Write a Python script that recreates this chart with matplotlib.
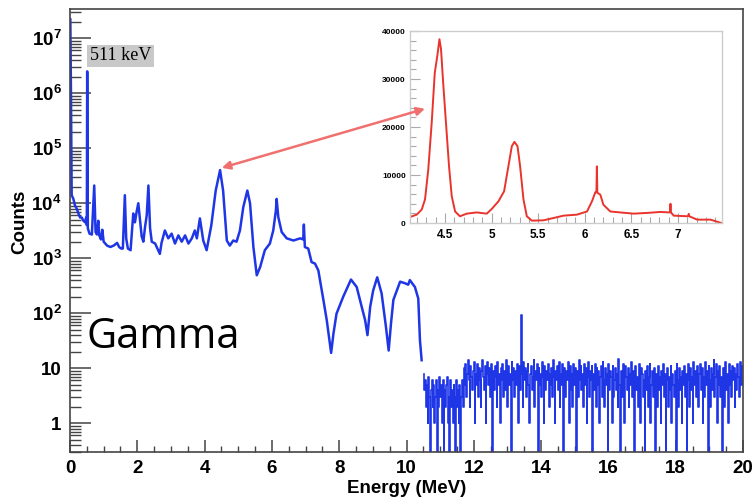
import matplotlib
matplotlib.use("Agg")
import matplotlib.pyplot as plt
import numpy as np
from matplotlib.patches import ConnectionPatch
from matplotlib.ticker import FixedLocator, MultipleLocator, LogLocator, NullFormatter

plt.rcParams['font.family'] = ['Liberation Sans', 'DejaVu Sans']
plt.rcParams['mathtext.fontset'] = 'custom'
plt.rcParams['mathtext.rm'] = 'Liberation Sans:bold'
plt.rcParams['mathtext.bf'] = 'Liberation Sans:bold'
plt.rcParams['mathtext.it'] = 'Liberation Sans:bold'

# main spectrum, 0 - 10.45 MeV
energy = [0.01, 0.03, 0.05, 0.10, 0.15, 0.20, 0.25, 0.30, 0.35, 0.40, 0.45, 0.48,
          0.50, 0.511, 0.53, 0.58, 0.65, 0.72, 0.76, 0.80, 0.84, 0.87, 0.92, 0.96,
          1.00, 1.10, 1.20, 1.30, 1.40, 1.46, 1.52, 1.57, 1.63, 1.67, 1.72, 1.80,
          1.88, 1.93, 1.98, 2.03, 2.08, 2.13, 2.18, 2.23, 2.28, 2.33, 2.38, 2.43,
          2.53, 2.67, 2.72, 2.82, 2.92, 3.02, 3.12, 3.22, 3.32, 3.42, 3.52, 3.62,
          3.71, 3.77, 3.86, 3.96, 4.06, 4.20, 4.33, 4.46, 4.55, 4.66, 4.75, 4.85,
          4.95, 5.05, 5.15, 5.27, 5.35, 5.45, 5.55, 5.65, 5.79, 5.94, 6.04, 6.12,
          6.14, 6.19, 6.29, 6.44, 6.64, 6.84, 6.93, 6.95, 6.98, 7.08, 7.18, 7.28,
          7.38, 7.53, 7.63, 7.76, 7.83, 7.92, 8.12, 8.35, 8.52, 8.67, 8.77, 8.84,
          8.92, 9.01, 9.13, 9.26, 9.39, 9.47, 9.54, 9.61, 9.81, 9.96, 10.05, 10.10,
          10.25, 10.35, 10.40, 10.45]
counts = [2.2e7, 8e5, 1.4e4, 1.2e4, 9e3, 8e3, 6.5e3, 5.5e3, 5.5e3, 4.8e3, 4.5e3, 5.5e3,
          4e3, 2.5e6, 3.5e3, 2.8e3, 2.7e3, 2.1e4, 3e3, 2.7e3, 4.8e3, 2.6e3, 2.2e3, 3.3e3,
          2e3, 1.7e3, 1.6e3, 1.7e3, 1.9e3, 1.6e3, 1.5e3, 1.5e3, 1.4e4, 2.3e3, 1.5e3, 1.4e3,
          6.5e3, 4.5e3, 7e3, 1e4, 5e3, 2.5e3, 2e3, 3.7e3, 6e3, 2.1e4, 3.5e3, 2e3,
          1.85e3, 1.2e3, 1.9e3, 3.2e3, 2.3e3, 2.8e3, 1.85e3, 2.6e3, 2e3, 2.6e3, 1.85e3, 2.3e3,
          3.2e3, 2.3e3, 5.3e3, 2.1e3, 1.4e3, 4e3, 1.7e4, 4e4, 1.7e4, 2.1e3, 1.7e3, 2.1e3,
          2e3, 3.2e3, 8.5e3, 1.7e4, 1e4, 1.6e3, 490, 690, 1.4e3, 1.85e3, 3.2e3, 7.5e3,
          1.2e4, 5.6e3, 3e3, 2.3e3, 2.1e3, 2.3e3, 2.2e3, 4.1e3, 1.6e3, 1.5e3, 850, 800,
          600, 175, 75, 19, 43, 98, 200, 410, 300, 130, 75, 40,
          130, 260, 450, 230, 56, 21, 66, 175, 375, 350, 330, 400,
          300, 185, 32, 14]

# high-energy tail, 0.025 MeV bins starting at 10.50 MeV
tail_start = 10.50
tail_width = 0.025
tail_counts = [
    8, 4, 6, 2, 5, 1, 7, 3, 0, 4, 6, 2, 5, 1, 3, 6, 0, 4, 2, 7,
    3, 5, 1, 6, 0, 4, 2, 5, 7, 1, 3, 0, 6, 2, 4, 1, 5, 3, 0, 6,
    2, 4, 1, 5, 0, 3, 6, 2,
    10, 5, 12, 3, 8, 14, 6, 2, 11, 7, 4, 9, 13, 1, 8, 5, 12, 3, 10, 6,
    2, 9, 14, 7, 4, 11, 1, 8, 13, 5, 10, 3, 6, 12, 0, 9, 4, 11, 7, 2,
    13, 5, 8, 1, 10, 6, 12, 3, 9, 4, 14, 7, 2, 11, 5, 8, 0, 13, 6, 10,
    3, 9, 5, 12, 7, 1, 11, 4, 91, 8, 2, 13, 6, 10, 3, 9, 12, 5, 1, 8,
    11, 4, 7, 14, 2, 9, 6, 12, 0, 10, 5, 8, 3, 13, 7, 1, 11, 4, 9, 6,
    12, 2, 8, 5, 10, 3, 14, 7, 1, 9, 6, 11, 4, 13, 2, 8, 5, 12, 0, 10,
    7, 3, 9, 6, 13, 1, 11, 4, 8, 2, 12, 5, 10, 7, 0, 9, 3, 14, 6, 11,
    4, 8, 2, 12, 5, 10, 1, 7, 13, 3, 9, 6, 11, 0, 8, 4, 12, 2, 10, 5,
    9, 1, 7, 11, 3, 13, 6, 2, 10, 5, 8, 0, 12, 4, 9, 7, 1, 11, 3, 6,
    10, 4, 8, 2, 15, 5, 0, 9, 3, 12, 6, 1, 11, 7, 4, 10, 2, 8, 5, 13,
    3, 9, 6, 0, 11, 4, 7, 2, 12, 5, 1, 10, 8, 3, 6, 0, 9, 4, 11, 2,
    7, 12, 1, 5, 9, 3, 10, 0, 6, 8, 2, 11, 4, 7, 1, 9, 5, 12, 3, 8,
    0, 6, 10, 2, 7, 4, 11, 1, 8, 5, 3, 9, 0, 12, 6, 2, 10, 4, 7, 1,
    9, 5, 11, 3, 8, 0, 6, 12, 2, 10, 4, 7, 1, 13, 5, 9, 3, 11, 6, 2,
    8, 12, 4, 10, 1, 7, 3, 13, 5, 9, 0, 11, 6, 2, 10, 4, 8, 14, 3, 7,
    12, 1, 9, 5, 11, 3, 7, 0, 10, 6, 2, 13, 4, 8, 1, 12, 5, 9, 3, 11,
    6, 10, 2, 8, 4, 12, 7, 3, 9, 13, 5, 11]

# inset: zoom on 4.1 - 7.5 MeV, linear counts
inset_energy = [4.124, 4.196, 4.25, 4.285, 4.32, 4.357, 4.39, 4.417, 4.44, 4.457,
                4.48, 4.51, 4.543, 4.572, 4.608, 4.66, 4.733, 4.84, 4.948, 5.0,
                5.073, 5.134, 5.18, 5.217, 5.245, 5.278, 5.306, 5.342, 5.378, 5.432,
                5.557, 5.665, 5.772, 5.916, 6.024, 6.077, 6.113, 6.125, 6.13, 6.135,
                6.167, 6.2, 6.274, 6.38, 6.525, 6.67, 6.81, 6.915, 6.92, 6.925,
                6.955, 7.11, 7.116, 7.122, 7.206, 7.35, 7.465]
inset_counts = [1250, 1740, 2800, 4900, 11100, 20900, 31300, 34800, 38300, 36200,
                29200, 20900, 11800, 5600, 2400, 1400, 1950, 2200, 1950, 2900,
                4500, 6600, 11800, 16000, 16900, 16000, 11800, 4900, 1400, 490,
                560, 1040, 1530, 1740, 2400, 4500, 6400, 6400, 11800, 6300,
                5900, 3800, 2400, 2200, 1950, 2100, 2300, 2200, 4000, 2200,
                1530, 1400, 1900, 1400, 700, 700, 0]

blue = '#1f36e6'
fig = plt.figure(figsize=(7.55, 4.99), dpi=100)
ax = fig.add_axes([70/755, 47/499, 673/755, 443/499])

ax.plot(energy, counts, color=blue, lw=1.8)
tail_x = tail_start + tail_width * (np.arange(len(tail_counts)) + 0.5)
ax.plot(tail_x, tail_counts, color=blue, lw=1.2, drawstyle='steps-mid')

ax.set_yscale('log')
ax.set_xlim(0, 20)
ax.set_ylim(0.3, 3.4e7)

ax.xaxis.set_major_locator(MultipleLocator(2))
ax.xaxis.set_minor_locator(MultipleLocator(0.5))
ax.yaxis.set_major_locator(FixedLocator([1, 10, 1e2, 1e3, 1e4, 1e5, 1e6, 1e7]))
ax.set_yticklabels(['1', '10', '10$^{2}$', '10$^{3}$', '10$^{4}$', '10$^{5}$',
                    '10$^{6}$', '10$^{7}$'])
ax.yaxis.set_minor_locator(LogLocator(base=10, subs=np.arange(2, 10), numticks=20))
ax.yaxis.set_minor_formatter(NullFormatter())
ax.tick_params(axis='both', which='both', direction='in', colors='#444444',
               labelcolor='black', labelsize=13.5, pad=6)
ax.tick_params(axis='y', which='major', length=15, width=1.1)
ax.tick_params(axis='y', which='minor', length=8, width=1.0)
ax.tick_params(axis='x', which='major', length=9, width=1.1)
ax.tick_params(axis='x', which='minor', length=4.5, width=1.0)
for lab in ax.get_xticklabels() + ax.get_yticklabels():
    lab.set_fontweight('bold')
for sp in ax.spines.values():
    sp.set_color('#444444')
    sp.set_linewidth(1.2)

ax.set_xlabel('Energy (MeV)', fontsize=13.5, fontweight='bold', labelpad=2)
ax.set_ylabel('Counts', fontsize=13.5, fontweight='bold')
ax.yaxis.set_label_coords(-0.062, 0.52)

ax.text(0.03, 0.894, '511 keV', transform=ax.transAxes, family='Liberation Serif',
        fontsize=13, va='center', ha='left',
        bbox=dict(boxstyle='square,pad=0.15', fc='#c8c8c8', ec='none'))
ax.text(0.025, 0.235, 'Gamma', transform=ax.transAxes, family='Open Sans',
        fontsize=30, va='baseline', ha='left')

# inset
axi = fig.add_axes([410/755, 276/499, 312/755, 192/499])
axi.set_facecolor('white')
axi.plot(inset_energy, inset_counts, color='#e8342c', lw=1.4)
axi.set_xlim(4.124, 7.473)
axi.set_ylim(0, 40000)
axi.xaxis.set_major_locator(FixedLocator([4.5, 5, 5.5, 6, 6.5, 7]))
axi.set_xticklabels(['4.5', '5', '5.5', '6', '6.5', '7'])
axi.xaxis.set_minor_locator(MultipleLocator(0.1))
axi.yaxis.set_major_locator(MultipleLocator(10000))
axi.yaxis.set_minor_locator(MultipleLocator(2000))
axi.tick_params(axis='both', which='both', direction='in', colors='#aaaaaa',
                labelcolor='black', width=0.8)
axi.tick_params(which='major', length=7)
axi.tick_params(which='minor', length=4)
axi.tick_params(axis='x', labelsize=8.5, pad=4)
axi.tick_params(axis='y', labelsize=6, pad=3)
for lab in axi.get_xticklabels() + axi.get_yticklabels():
    lab.set_fontweight('bold')
for sp in axi.spines.values():
    sp.set_color('#cccccc')
    sp.set_linewidth(1.0)

arrow = ConnectionPatch(xyA=(4.51, 4.4e4), coordsA=ax.transData,
                        xyB=(4.285, 23800), coordsB=axi.transData,
                        arrowstyle='<|-|>', mutation_scale=12, color='#f07070',
                        lw=1.8)
fig.add_artist(arrow)

fig.savefig('out.png', dpi=100)
